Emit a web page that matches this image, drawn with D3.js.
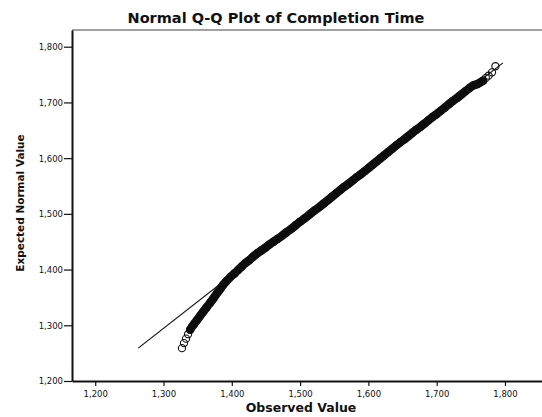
<!DOCTYPE html>
<html lang="en">
<head>
    <meta charset="UTF-8">
    <title>Normal Q-Q Plot of Completion Time</title>
    <script src="https://d3js.org/d3.v7.min.js"></script>
    <style>
        body { margin: 0; background: #fff; }
        text { font-family: "DejaVu Sans", "Liberation Sans", sans-serif; fill: #111; }
    </style>
</head>
<body>
    <svg id="qq_chart" width="542" height="417"></svg>
    <script>
        // observed completion times and their expected normal values
        const observed = [
            1327, 1330, 1333, 1336, 1339, 1342, 1345, 1349, 1353, 1358,
            1363, 1368, 1373, 1378, 1383, 1387, 1392, 1398, 1404, 1409,
            1415, 1420, 1426, 1431, 1437, 1443, 1449, 1455, 1461, 1467,
            1474, 1480, 1487, 1494, 1500, 1507, 1514, 1521, 1528, 1535,
            1541, 1547, 1553, 1559, 1565, 1571, 1577, 1583, 1589, 1595,
            1601, 1607, 1612, 1617, 1623, 1629, 1635, 1641, 1647, 1653,
            1659, 1665, 1670, 1676, 1682, 1688, 1694, 1700, 1706, 1712,
            1718, 1724, 1730, 1736, 1742, 1748, 1754, 1760, 1764, 1768,
            1772, 1776, 1781, 1786
        ];
        const expected = [
            1259, 1268, 1276, 1284, 1292, 1298, 1303, 1309, 1316, 1324,
            1332, 1340, 1348, 1357, 1365, 1372, 1379, 1387, 1393, 1399,
            1406, 1412, 1417, 1423, 1429, 1434, 1439, 1445, 1450, 1455,
            1461, 1467, 1473, 1480, 1486, 1492, 1499, 1506, 1512, 1519,
            1525, 1531, 1537, 1543, 1549, 1554, 1560, 1566, 1571, 1577,
            1583, 1589, 1594, 1599, 1605, 1611, 1617, 1623, 1629, 1634,
            1640, 1646, 1651, 1656, 1662, 1668, 1674, 1679, 1685, 1691,
            1697, 1703, 1708, 1714, 1720, 1726, 1731, 1733, 1736, 1739,
            1744, 1748, 1754, 1765
        ];
        // reference line end points [observed, expected]
        const refLine = [[1263, 1259], [1797, 1771]];
        const xTicks = [1200, 1300, 1400, 1500, 1600, 1700, 1800];
        const yTicks = [1200, 1300, 1400, 1500, 1600, 1700, 1800];

        const svg = d3.select("#qq_chart");
        const margin = { top: 30, right: -6, bottom: 36, left: 72 };
        const width = svg.attr("width") - margin.left - margin.right;
        const height = svg.attr("height") - margin.top - margin.bottom;

        const g = svg.append("g")
            .attr("transform", `translate(${margin.left},${margin.top})`);

        const x = d3.scaleLinear().domain([1166, 1863]).range([0, width]);
        const y = d3.scaleLinear().domain([1200, 1830]).range([height, 0]);
        const fmt = d3.format(",");

        // top frame line
        g.append("line")
            .attr("x1", 0).attr("x2", width)
            .attr("y1", 0).attr("y2", 0)
            .style("stroke", "#444")
            .style("stroke-width", 1.2);

        const xAxis = g.append("g")
            .attr("transform", `translate(0,${height})`)
            .call(d3.axisBottom(x).tickValues(xTicks).tickFormat(fmt).tickSize(5).tickSizeOuter(0));
        const yAxis = g.append("g")
            .call(d3.axisLeft(y).tickValues(yTicks).tickFormat(fmt).tickSize(8).tickSizeOuter(0));

        [xAxis, yAxis].forEach(a => {
            a.select(".domain").style("stroke", "#111").style("stroke-width", 2);
            a.selectAll(".tick line").style("stroke", "#111").style("stroke-width", 1.2);
            a.selectAll(".tick text").style("font-family", "'DejaVu Sans', sans-serif").style("font-size", "8.5px");
        });
        xAxis.selectAll(".tick text").attr("dy", "0.9em");
        yAxis.selectAll(".tick text").attr("x", -9).attr("dy", "0.35em");

        const pts = observed.map((o, i) => ({ o: o, e: expected[i] }));

        // reference line
        g.append("line")
            .attr("x1", x(refLine[0][0])).attr("y1", y(refLine[0][1]))
            .attr("x2", x(refLine[1][0])).attr("y2", y(refLine[1][1]))
            .style("stroke", "#111")
            .style("stroke-width", 1.2);

        // dense overlap of markers in the body of the distribution
        g.append("path")
            .datum(pts.slice(4, pts.length - 4))
            .attr("d", d3.line().x(d => x(d.o)).y(d => y(d.e)).curve(d3.curveBasis))
            .style("fill", "none")
            .style("stroke", "#0a0a0a")
            .style("stroke-width", 8.5)
            .style("stroke-linecap", "round");

        g.selectAll("circle.pt")
            .data(pts)
            .join("circle")
            .attr("class", "pt")
            .attr("cx", d => x(d.o))
            .attr("cy", d => y(d.e))
            .attr("r", 3.6)
            .style("fill", "none")
            .style("stroke", "#111")
            .style("stroke-width", 1.1);

        // titles
        svg.append("text")
            .attr("x", 276).attr("y", 23)
            .attr("text-anchor", "middle")
            .style("font-size", "14.5px")
            .style("font-weight", "bold")
            .text("Normal Q-Q Plot of Completion Time");

        svg.append("text")
            .attr("x", 301).attr("y", 412)
            .attr("text-anchor", "middle")
            .style("font-size", "12.5px")
            .style("font-weight", "bold")
            .text("Observed Value");

        svg.append("text")
            .attr("transform", "translate(24,203) rotate(-90)")
            .attr("text-anchor", "middle")
            .style("font-size", "10.5px")
            .style("font-weight", "bold")
            .text("Expected Normal Value");
    </script>
</body>
</html>
